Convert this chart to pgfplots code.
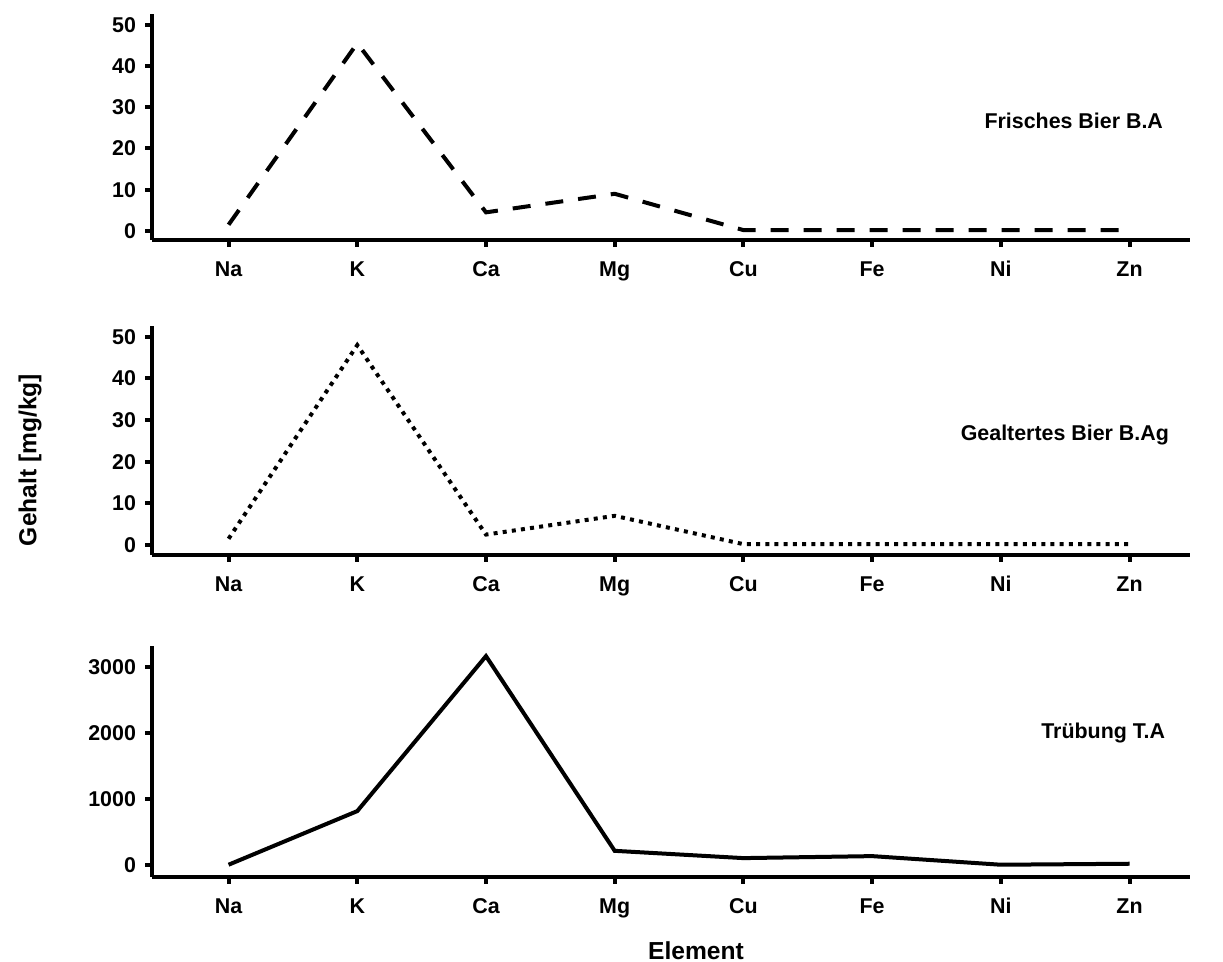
\documentclass[border=0pt]{standalone}
\usepackage{fontspec}
\setmainfont{Liberation Sans}
\usepackage{pgfplots}
\pgfplotsset{compat=1.18}
\begin{document}
\begin{tikzpicture}[x=1pt,y=1pt]
\useasboundingbox (0,0) rectangle (611.5,481);
\pgfplotsset{panel/.style={
  scale only axis, width=519pt,
  axis x line=bottom, axis y line=left,
  axis line style={-, line width=2pt},
  xmin=-0.595, xmax=7.47,
  xtick={0,...,7}, xticklabels={Na,K,Ca,Mg,Cu,Fe,Ni,Zn},
  tick align=outside,
  major tick length=3.5pt,
  tick style={line width=2pt, black},
  /pgf/number format/assume math mode=true,
  ticklabel style={font=\bfseries\fontsize{10.7}{12}\selectfont},
  xticklabel style={yshift=-3pt, text height=1.6ex, text depth=0.3ex},
  yticklabel style={xshift=-1pt},
  clip=false,
  anchor=south west,
}}
\begin{axis}[panel, at={(76pt,361pt)}, height=113pt,
  ymin=-2.2, ymax=52.6, ytick={0,10,20,30,40,50}]
\addplot[black, line width=2pt, dash pattern=on 9pt off 7.5pt] coordinates {
 (0,1.5) (1,45.5) (2,4.5) (3,9) (4,0.2) (5,0.2) (6,0.2) (7,0.2)};
\end{axis}
\begin{axis}[panel, at={(76pt,203.5pt)}, height=114.5pt,
  ymin=-2.4, ymax=52.6, ytick={0,10,20,30,40,50}]
\addplot[black, line width=2pt, dash pattern=on 2pt off 2.6pt] coordinates {
 (0,1.5) (1,48) (2,2.5) (3,7) (4,0.2) (5,0.2) (6,0.2) (7,0.2)};
\end{axis}
\begin{axis}[panel, at={(76pt,42.5pt)}, height=115.5pt,
  ymin=-175, ymax=3313, ytick={0,1000,2000,3000},
  scaled y ticks=false, yticklabel style={/pgf/number format/.cd, set thousands separator={}}]
\addplot[black, line width=2pt] coordinates {
 (0,10) (1,820) (2,3160) (3,220) (4,110) (5,140) (6,10) (7,25)};
\end{axis}
\node[anchor=east, font=\bfseries\fontsize{10.7}{12}\selectfont] at (585,420.5) {Frisches Bier B.A};
\node[anchor=east, font=\bfseries\fontsize{10.7}{12}\selectfont] at (588,263.5) {Gealtertes Bier B.Ag};
\node[anchor=east, font=\bfseries\fontsize{10.7}{12}\selectfont] at (586,114.5) {Trübung T.A};
\node[rotate=90, font=\bfseries\fontsize{12.3}{14}\selectfont] at (15,251) {Gehalt [mg/kg]};
\node[font=\bfseries\fontsize{12.3}{14}\selectfont] at (348,5.5) {Element};
\end{tikzpicture}
\end{document}
